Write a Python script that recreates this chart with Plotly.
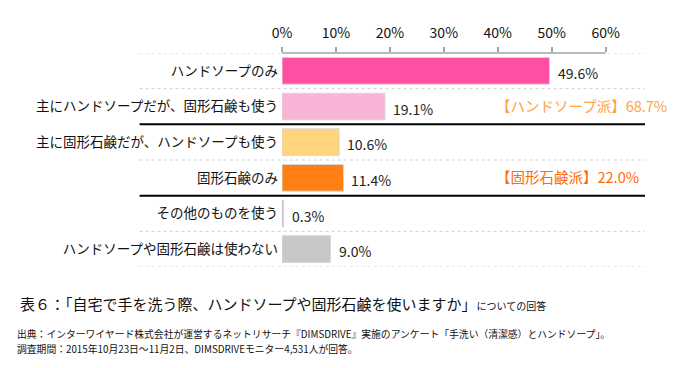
import plotly.graph_objects as go

categories = ["ハンドソープのみ", "主にハンドソープだが、固形石鹸も使う", "主に固形石鹸だが、ハンドソープも使う",
              "固形石鹸のみ", "その他のものを使う", "ハンドソープや固形石鹸は使わない"]
values = [49.6, 19.1, 10.6, 11.4, 0.3, 9.0]
colors = ["#FF4FA3", "#F8B4D6", "#FFD47C", "#FF7F14", "#B9A3D3", "#C8C8C8"]
tick_vals = [0, 10, 20, 30, 40, 50, 60]
tick_text = ["0%", "10%", "20%", "30%", "40%", "50%", "60%"]
group_labels = ["【ハンドソープ派】68.7%", "【固形石鹸派】22.0%"]
group_rows = [1, 3]
group_colors = ["#FFA23F", "#FF6A0A"]
caption_main = "表６：「自宅で手を洗う際、ハンドソープや固形石鹸を使いますか」"
caption_small = "についての回答"
source_lines = ["出典：インターワイヤード株式会社が運営するネットリサーチ『DIMSDRIVE』実施のアンケート「手洗い（清潔感）とハンドソープ」。",
                "調査期間：2015年10月23日～11月2日、DIMSDRIVEモニター4,531人が回答。"]

FONT = "Noto Sans CJK JP"
L, R, T, B = 282.3, 39, 53, 101
W, H = 684, 368
XMAX = 67.3
PW, PH = W - L - R, H - T - B


def px_x(px):
    return (px - L) / PW


def px_y(py):
    return (H - B - py) / PH


fig = go.Figure()
fig.add_trace(go.Bar(
    x=values, y=list(range(len(categories))), orientation="h",
    marker=dict(color=colors, line=dict(color="#D9D9D9", width=1)),
    width=0.75, hoverinfo="skip", showlegend=False,
))

annotations = []
for i, v in enumerate(values):
    annotations.append(dict(x=v, y=i, xref="x", yref="y", text=f"{v:.1f}%", showarrow=False,
                            xanchor="left", xshift=6, yshift=-2,
                            font=dict(family=FONT, size=14, color="#222")))
for lab, r, c in zip(group_labels, group_rows, group_colors):
    annotations.append(dict(x=px_x(494), y=r, xref="paper", yref="y", text=lab, showarrow=False,
                            xanchor="left", yshift=1, font=dict(family=FONT, size=14.5, color=c)))

shapes = []
for b in [-0.5, 0.5, 2.5, 4.5, 5.5]:
    shapes.append(dict(type="line", xref="paper", yref="y", x0=px_x(140), x1=px_x(645), y0=b, y1=b,
                       line=dict(color="#CFCFCF", width=1, dash="dot"), layer="below"))
for b in [1.5, 3.5]:
    shapes.append(dict(type="line", xref="paper", yref="y", x0=px_x(140), x1=px_x(645), y0=b, y1=b,
                       line=dict(color="#000000", width=2)))
shapes.append(dict(type="line", xref="x", yref="paper", x0=0, x1=60, y0=1, y1=1,
                   line=dict(color="#A6A6A6", width=1.5)))

# caption
annotations.append(dict(x=px_x(19), y=px_y(303), xref="paper", yref="paper", xanchor="left",
                        yanchor="middle", showarrow=False, align="left",
                        text=f"{caption_main}<span style='font-size:10px'>{caption_small}</span>",
                        font=dict(family=FONT, size=15, color="#111")))
annotations.append(dict(x=px_x(16), y=px_y(334), xref="paper", yref="paper", xanchor="left",
                        yanchor="middle", showarrow=False, text=source_lines[0],
                        font=dict(family=FONT, size=9.8, color="#111")))
annotations.append(dict(x=px_x(16), y=px_y(349), xref="paper", yref="paper", xanchor="left",
                        yanchor="middle", showarrow=False, text=source_lines[1],
                        font=dict(family=FONT, size=9.8, color="#111")))

fig.update_layout(
    width=W, height=H,
    margin=dict(l=L, r=R, t=T, b=B),
    paper_bgcolor="white", plot_bgcolor="white",
    xaxis=dict(side="top", range=[0, XMAX], tickvals=tick_vals, ticktext=tick_text,
               showgrid=False, zeroline=False, showline=False, automargin=False,
               ticks="outside", ticklen=5, tickcolor="#A6A6A6", tickwidth=1.5,
               ticklabelstandoff=3,
               tickfont=dict(family=FONT, size=14, color="#111"), fixedrange=True),
    yaxis=dict(range=[5.5, -0.5], tickvals=list(range(len(categories))), ticktext=categories,
               showgrid=False, zeroline=False, showline=False, ticks="", automargin=False,
               ticklabelstandoff=3,
               tickfont=dict(family=FONT, size=13.5, color="#111"), fixedrange=True),
    annotations=annotations, shapes=shapes,
    bargap=0.25,
)
fig.write_html("out.html", config={"displayModeBar": False},
               post_script="document.body.style.margin='0';document.body.style.padding='0';")
